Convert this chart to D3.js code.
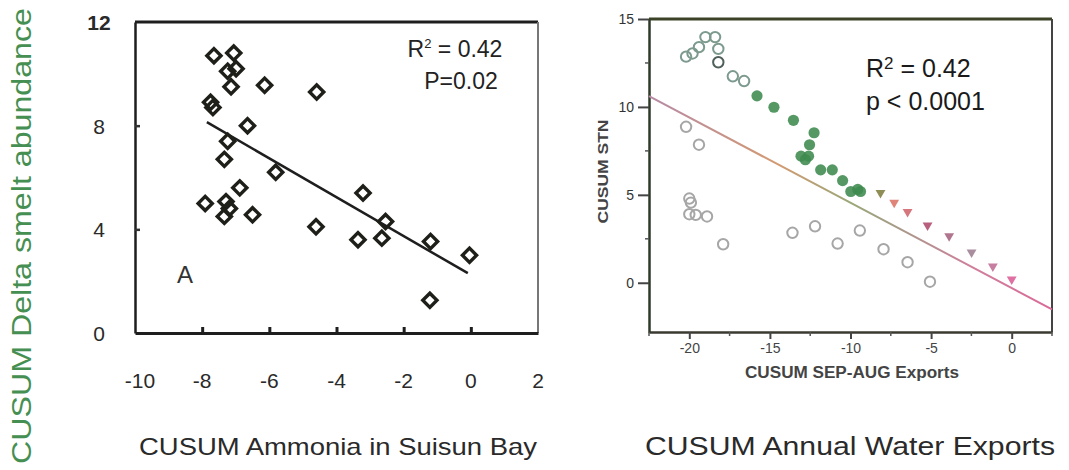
<!DOCTYPE html>
<html>
<head>
<meta charset="utf-8">
<script src="https://cdn.jsdelivr.net/npm/d3@7"></script>
<style>
  body { margin: 0; background: #fff; }
  svg { display: block; font-family: Arial, "Liberation Sans", sans-serif; }
</style>
</head>
<body>
<div id="chart"></div>
<script>
// ---- data: panel A (ammonia) ----
const ammoniaX = [-7.65, -7.06, -7.24, -6.99, -7.14, -6.14, -4.59, -7.75, -7.68, -6.65, -7.24, -7.34, -5.81, -6.88,
                  -7.91, -7.29, -7.19, -7.34, -6.50, -4.61, -3.21, -3.36, -2.54, -2.65, -1.20, -0.04, -1.22]
const smeltY   = [10.7, 10.8, 10.1, 10.2, 9.5, 9.56, 9.3, 8.9, 8.7, 8.0, 7.4, 6.7, 6.2, 5.6,
                  5.0, 5.07, 4.8, 4.5, 4.56, 4.1, 5.4, 3.6, 4.3, 3.66, 3.53, 3.0, 1.26]
const fitA = { x0: -7.86, x1: -0.09, intercept: 2.24, slope: -0.75 }
const xTicksA = [-10, -8, -6, -4, -2, 0, 2]
const yTicksA = [0, 4, 8, 12]

// ---- data: panel B (exports) ----
const openUpperX = [-20.2, -19.8, -19.4, -19.0, -18.4, -18.2, -18.2, -17.3, -16.6]
const openUpperY = [12.86, 13.04, 13.4, 13.97, 13.97, 13.3, 12.54, 11.74, 11.47]
const openLowerX = [-20.2, -19.4, -20.0, -19.9, -20.0, -19.6, -18.9, -17.9, -13.6, -12.2, -10.8, -9.42, -7.95, -6.46, -5.07]
const openLowerY = [8.87, 7.85, 4.79, 4.56, 3.9, 3.86, 3.77, 2.19, 2.84, 3.21, 2.23, 2.97, 1.91, 1.17, 0.06]
const greenX = [-15.8, -14.75, -13.54, -12.26, -12.54, -13.07, -12.8, -12.6, -11.85, -11.13, -10.49, -9.98, -9.55, -9.38]
const greenY = [10.63, 9.98, 9.24, 8.53, 7.85, 7.2, 7.0, 7.2, 6.42, 6.42, 5.81, 5.19, 5.31, 5.19]
const triX = [-8.14, -7.29, -6.46, -5.22, -3.88, -2.49, -1.17, 0]
const triY = [5.12, 4.56, 4.04, 3.27, 2.65, 1.73, 0.93, 0.19]
const fitB = { x0: -22.5, x1: 2.5, intercept: -0.3, slope: -0.485 }
const xTicksB = [-20, -15, -10, -5, 0]
const xMinorB = [-22.5, -17.5, -12.5, -7.5, -2.5, 2.5]
const yTicksB = [0, 5, 10, 15]
const yMinorB = [2.5, 7.5, 12.5]

const zip = (xs, ys) => xs.map((x, i) => ({ x: x, y: ys[i] }))

const svg = d3.select("#chart").append("svg")
    .attr("width", 1069)
    .attr("height", 470)

// ================= panel A =================
const xA = d3.scaleLinear().domain([-10, 2]).range([135, 538])
const yA = d3.scaleLinear().domain([0, 12]).range([333, 22])

const gA = svg.append("g")

// frame (top dark, right light)
gA.append("line").attr("x1", xA(-10)).attr("x2", xA(2)).attr("y1", yA(12)).attr("y2", yA(12))
    .attr("stroke", "#1e1e1e").attr("stroke-width", 3)
gA.append("line").attr("x1", xA(2)).attr("x2", xA(2)).attr("y1", yA(12)).attr("y2", yA(0))
    .attr("stroke", "#777").attr("stroke-width", 2)

// bottom axis, inward ticks
const axA = gA.append("g")
    .attr("transform", `translate(0,${yA(0)})`)
    .call(d3.axisBottom(xA).tickValues(xTicksA.slice(1, -1)).tickSize(-6).tickSizeOuter(0).tickFormat(""))
axA.select(".domain").attr("stroke", "#1e1e1e").attr("stroke-width", 3)
axA.selectAll(".tick line").attr("stroke", "#1e1e1e").attr("stroke-width", 3)

const ayA = gA.append("g")
    .attr("transform", `translate(${xA(-10)},0)`)
    .call(d3.axisLeft(yA).tickValues([4, 8]).tickSize(-5).tickSizeOuter(0).tickFormat(""))
ayA.select(".domain").attr("stroke", "#1e1e1e").attr("stroke-width", 2.5)
ayA.selectAll(".tick line").attr("stroke", "#333").attr("stroke-width", 2.5)

// tick labels
gA.selectAll(".xlabA").data(xTicksA).join("text")
    .attr("x", d => xA(d) + (d === -10 ? 5 : 0))
    .attr("y", 388)
    .attr("text-anchor", "middle")
    .attr("font-size", 21)
    .attr("fill", "#2a2a2a")
    .text(d => d)
gA.selectAll(".ylabA").data(yTicksA).join("text")
    .attr("x", 99)
    .attr("y", d => yA(d) + 8)
    .attr("text-anchor", "middle")
    .attr("font-size", 21)
    .attr("font-weight", d => d === 12 ? "bold" : "normal")
    .attr("fill", "#2a2a2a")
    .text(d => d)

// regression
gA.append("line")
    .attr("x1", xA(fitA.x0)).attr("y1", yA(fitA.intercept + fitA.slope * fitA.x0))
    .attr("x2", xA(fitA.x1)).attr("y2", yA(fitA.intercept + fitA.slope * fitA.x1))
    .attr("stroke", "#1e1e1e").attr("stroke-width", 2.5)

// diamonds
const diamond = d3.symbol(d3.symbolSquare, 100)
gA.selectAll(".dia").data(zip(ammoniaX, smeltY)).join("path")
    .attr("d", diamond)
    .attr("transform", d => `translate(${xA(d.x)},${yA(d.y)}) rotate(45)`)
    .attr("fill", "none")
    .attr("stroke", "#1f1f1a")
    .attr("stroke-width", 3.4)

gA.append("text").attr("x", 455).attr("y", 57).attr("text-anchor", "middle")
    .attr("font-size", 23).attr("fill", "#222")
    .html("R<tspan font-size='13' dy='-9'>2</tspan><tspan dy='9'> = 0.42</tspan>")
gA.append("text").attr("x", 461).attr("y", 89).attr("text-anchor", "middle")
    .attr("font-size", 23).attr("fill", "#222").text("P=0.02")
gA.append("text").attr("x", 185).attr("y", 283).attr("text-anchor", "middle")
    .attr("font-size", 24).attr("fill", "#333").text("A")

gA.append("text")
    .attr("transform", "translate(31,464) rotate(-90)")
    .attr("text-anchor", "start")
    .attr("font-size", 27)
    .attr("fill", "#468f52")
    .attr("textLength", 456)
    .attr("lengthAdjust", "spacingAndGlyphs")
    .text("CUSUM Delta smelt abundance")

gA.append("text").attr("x", 139).attr("y", 455)
    .attr("font-size", 24).attr("fill", "#2a2a2a")
    .attr("textLength", 398).attr("lengthAdjust", "spacingAndGlyphs")
    .text("CUSUM Ammonia in Suisun Bay")

// ================= panel B =================
const xB = d3.scaleLinear().domain([-22.5, 2.5]).range([649, 1052])
const yB = d3.scaleLinear().domain([-2.8, 15]).range([332, 19])

const gB = svg.append("g")

gB.append("line").attr("x1", xB(-22.5)).attr("x2", xB(2.5)).attr("y1", yB(15)).attr("y2", yB(15))
    .attr("stroke", "#3b4226").attr("stroke-width", 3)
gB.append("line").attr("x1", xB(2.5)).attr("x2", xB(2.5)).attr("y1", yB(15)).attr("y2", yB(-2.8))
    .attr("stroke", "#444").attr("stroke-width", 2)

const axB = gB.append("g")
    .attr("transform", `translate(0,${yB(-2.8)})`)
    .call(d3.axisBottom(xB).tickValues(xTicksB).tickSize(7).tickSizeOuter(0).tickPadding(4).tickFormat(d => d))
axB.select(".domain").attr("stroke", "#3a3a30").attr("stroke-width", 2.5)
axB.selectAll(".tick line").attr("stroke", "#444").attr("stroke-width", 2)
axB.selectAll(".tick text").attr("font-size", 14).attr("fill", "#444")
gB.selectAll(".xminB").data(xMinorB).join("line")
    .attr("x1", d => xB(d)).attr("x2", d => xB(d))
    .attr("y1", yB(-2.8)).attr("y2", yB(-2.8) + 4)
    .attr("stroke", "#555").attr("stroke-width", 1.5)

const ayB = gB.append("g")
    .attr("transform", `translate(${xB(-22.5)},0)`)
    .call(d3.axisLeft(yB).tickValues(yTicksB).tickSize(11).tickSizeOuter(0).tickPadding(4).tickFormat(d => d))
ayB.select(".domain").attr("stroke", "#2f3a2a").attr("stroke-width", 2.5)
ayB.selectAll(".tick line").attr("stroke", "#444").attr("stroke-width", 2)
ayB.selectAll(".tick text").attr("font-size", 14).attr("fill", "#333")
gB.selectAll(".yminB").data(yMinorB).join("line")
    .attr("x1", xB(-22.5) - 4).attr("x2", xB(-22.5))
    .attr("y1", d => yB(d)).attr("y2", d => yB(d))
    .attr("stroke", "#555").attr("stroke-width", 1.5)

// gradient regression line
const grad = svg.append("defs").append("linearGradient")
    .attr("id", "fitgrad")
    .attr("gradientUnits", "userSpaceOnUse")
    .attr("x1", xB(fitB.x0)).attr("x2", xB(fitB.x1))
    .attr("y1", 0).attr("y2", 0)
const stops = [[0, "#b68aa6"], [0.32, "#d39a72"], [0.5, "#9aa878"], [0.62, "#a89a8a"], [0.8, "#cf7f9c"], [1, "#d96a98"]]
grad.selectAll("stop").data(stops).join("stop")
    .attr("offset", d => d[0]).attr("stop-color", d => d[1])

gB.append("line")
    .attr("x1", xB(fitB.x0)).attr("y1", yB(fitB.intercept + fitB.slope * fitB.x0))
    .attr("x2", xB(fitB.x1)).attr("y2", yB(fitB.intercept + fitB.slope * fitB.x1) + 0.01)
    .attr("stroke", "url(#fitgrad)").attr("stroke-width", 2)

gB.selectAll(".openLow").data(zip(openLowerX, openLowerY)).join("circle")
    .attr("cx", d => xB(d.x)).attr("cy", d => yB(d.y)).attr("r", 5.2)
    .attr("fill", "none").attr("stroke", "#a6a6a6").attr("stroke-width", 2)
gB.selectAll(".openUp").data(zip(openUpperX, openUpperY)).join("circle")
    .attr("cx", d => xB(d.x)).attr("cy", d => yB(d.y)).attr("r", 5.2)
    .attr("fill", "none")
    .attr("stroke", (d, i) => i === 6 ? "#4f5f5c" : "#7d9a8e")
    .attr("stroke-width", 2)

gB.selectAll(".green").data(zip(greenX, greenY)).join("circle")
    .attr("cx", d => xB(d.x)).attr("cy", d => yB(d.y)).attr("r", 5.6)
    .attr("fill", "#3d8a4e").attr("fill-opacity", 0.88)

const triColor = d3.scaleLinear()
    .domain([-8, -7.2, -5.2, -2.5, 0])
    .range(["#9c8c5c", "#e8837c", "#b8607e", "#a98ea0", "#e06fa2"])
const tri = d3.symbol(d3.symbolTriangle, 42)
gB.selectAll(".tri").data(zip(triX, triY)).join("path")
    .attr("d", tri)
    .attr("transform", d => `translate(${xB(d.x)},${yB(d.y)}) rotate(180)`)
    .attr("fill", d => triColor(d.x))

gB.append("text").attr("x", 866).attr("y", 77)
    .attr("font-size", 25).attr("fill", "#1a1a1a")
    .html("R<tspan font-size='17' dy='-8'>2</tspan><tspan dy='8'> = 0.42</tspan>")
gB.append("text").attr("x", 866).attr("y", 110)
    .attr("font-size", 25).attr("fill", "#1a1a1a").text("p < 0.0001")

gB.append("text")
    .attr("transform", `translate(608,${(yB(15) + yB(-2.8)) / 2 - 4}) rotate(-90)`)
    .attr("text-anchor", "middle")
    .attr("font-size", 15).attr("fill", "#444").attr("font-weight", "bold")
    .attr("textLength", 104).attr("lengthAdjust", "spacingAndGlyphs")
    .text("CUSUM STN")
gB.append("text").attr("x", 852).attr("y", 378).attr("text-anchor", "middle")
    .attr("font-size", 16).attr("fill", "#444").attr("font-weight", "bold")
    .attr("textLength", 214).attr("lengthAdjust", "spacingAndGlyphs")
    .text("CUSUM SEP-AUG Exports")

gB.append("text").attr("x", 645).attr("y", 455)
    .attr("font-size", 25).attr("fill", "#2a2a2a")
    .attr("textLength", 410).attr("lengthAdjust", "spacingAndGlyphs")
    .text("CUSUM Annual Water Exports")
</script>
</body>
</html>
